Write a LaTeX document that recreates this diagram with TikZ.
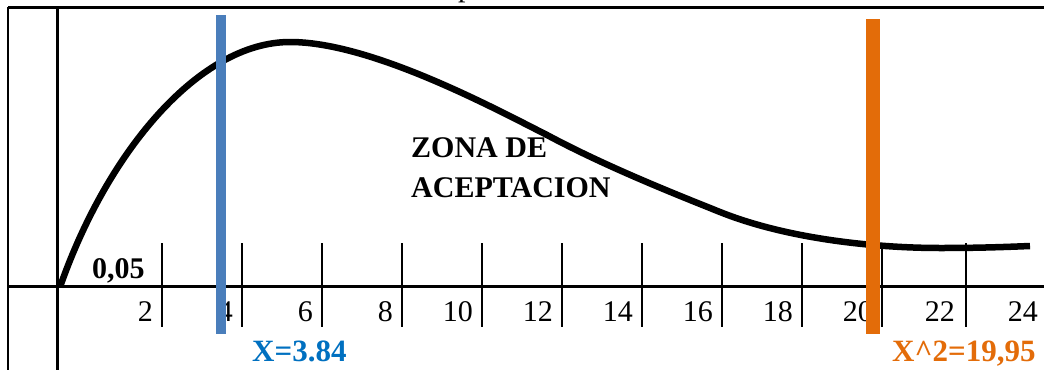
\documentclass[tikz,border=0pt]{standalone}
\usepackage{fontspec}
\setmainfont{Liberation Serif}
\definecolor{barblue}{HTML}{4A7EBB}
\definecolor{barorange}{HTML}{E36C09}
\definecolor{txtblue}{HTML}{0070C0}

\begin{document}
\begin{tikzpicture}[x=1pt, y=-1pt]
        \useasboundingbox (0,0) rectangle (1044,370);
        % frame and axes
        \draw[line width=3pt] (8,7.5) -- (1044,7.5);
        \draw[line width=2pt] (8,7) -- (8,370);
        \draw[line width=3pt] (57,7) -- (57,370);
        \draw[line width=3pt] (8,286) -- (1044,286);
        \foreach \t in {162,242,322,402,482,562,642,722,802,882,966}
            \draw[line width=2pt] (\t,243) -- (\t,327);
        % curve
        \draw[line width=6.5pt] (60,287) .. controls (108,150) and (200,42) .. (290,42)
            .. controls (370,42) and (490,106) .. (547,135)
            .. controls (605,166) and (670,192) .. (720,212)
            .. controls (790,240) and (880,248) .. (940,248)
            .. controls (980,248) and (1005,247) .. (1030,246);
        \begin{scope}[every node/.style={inner sep=0, font=\fontsize{30}{36}\selectfont}]
            \node [anchor=base west] (title) at (458,-3.5) {p};
            \foreach \t/\n in {162/2, 242/4, 322/6, 402/8, 482/10, 562/12, 642/14, 722/16, 802/18, 882/20, 964/22, 1047/24}
                \node [anchor=base east] (lab\n) at (\t-9,321) {\n};
            \node [anchor=base west, font=\fontsize{30}{36}\selectfont\bfseries] (alfa) at (92,278) {0,05};
            \node [anchor=base west, align=left, font=\fontsize{30}{40}\selectfont\bfseries] (zona) at (411,197) {ZONA DE\\ACEPTACION};
        \end{scope}
        % critical values
        \fill[barblue] (216,15) rectangle (226,334);
        \fill[barorange] (866,19) rectangle (880,334);
        \begin{scope}[every node/.style={inner sep=0, anchor=base west, font=\fontsize{31}{36}\selectfont\bfseries}]
            \node [text=txtblue] (xmin) at (252,361) {X=3.84};
            \node [text=barorange] (xmax) at (892,361) {X\^{}2=19,95};
        \end{scope}
    \end{tikzpicture}
\end{document}
